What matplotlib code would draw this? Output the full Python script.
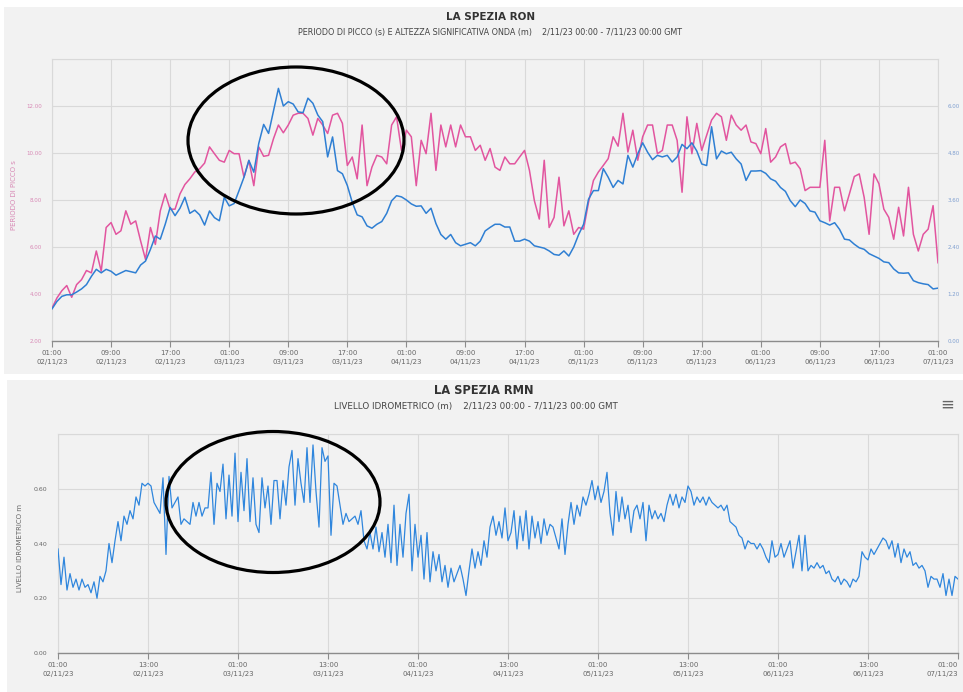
import numpy as np
import pandas as pd
import matplotlib
matplotlib.use('Agg')
import matplotlib.pyplot as plt
import matplotlib.dates as mdates
from matplotlib.ticker import FuncFormatter, FixedLocator
from matplotlib.patches import Rectangle, Ellipse

# ---------------- DATA ----------------
# Top chart: 40-minute samples, 01:00 02/11/23 -> 01:00 07/11/23 (local time)
top_start = "2023-11-02 01:00"
top_end = "2023-11-07 01:00"

peak_period_s = [
    3.40, 3.83, 4.14, 4.36, 3.86, 4.40, 4.61, 5.00, 4.90, 5.83, 4.97, 6.83,
    7.04, 6.54, 6.69, 7.54, 6.97, 7.11, 6.26, 5.47, 6.83, 6.11, 7.54, 8.26,
    7.61, 7.61, 8.26, 8.66, 8.90, 9.19, 9.33, 9.57, 10.26, 9.97, 9.69, 9.61,
    10.11, 9.97, 9.97, 8.97, 9.69, 8.61, 10.26, 9.86, 9.90, 10.61, 11.19, 10.86,
    11.19, 11.61, 11.69, 11.69, 11.47, 10.76, 11.47, 11.19, 10.83, 11.61, 11.69, 11.26,
    9.47, 9.83, 8.90, 11.19, 8.61, 9.40, 9.90, 9.83, 9.54, 11.19, 11.54, 10.11,
    10.97, 10.69, 8.61, 10.54, 9.97, 11.69, 9.26, 11.19, 10.26, 11.19, 10.26, 11.19,
    10.69, 10.69, 10.11, 10.33, 9.69, 10.19, 9.40, 9.26, 9.83, 9.54, 9.54, 9.83,
    10.11, 9.26, 7.97, 7.19, 9.69, 6.83, 7.26, 8.97, 6.90, 7.54, 6.54, 6.83,
    6.76, 7.90, 8.83, 9.19, 9.47, 9.76, 10.69, 10.29, 11.69, 10.04, 10.97, 9.69,
    10.69, 11.19, 11.19, 9.97, 10.11, 11.19, 11.19, 10.54, 8.33, 11.54, 9.97, 11.26,
    10.11, 10.76, 11.40, 11.69, 11.54, 10.54, 11.61, 11.19, 10.97, 11.19, 10.47, 10.40,
    9.97, 11.04, 9.61, 9.83, 10.26, 10.40, 9.54, 9.61, 9.33, 8.40, 8.54, 8.54,
    8.54, 10.54, 7.11, 8.54, 8.54, 7.54, 8.26, 9.00, 9.11, 8.11, 6.54, 9.11,
    8.69, 7.61, 7.26, 6.33, 7.69, 6.47, 8.54, 6.54, 5.83, 6.54, 6.76, 7.76, 5.33,
]

wave_height_m = [
    0.82, 1.01, 1.14, 1.18, 1.18, 1.25, 1.33, 1.44, 1.65, 1.83, 1.74, 1.83,
    1.78, 1.68, 1.74, 1.80, 1.77, 1.74, 1.94, 2.04, 2.34, 2.68, 2.60, 2.98,
    3.41, 3.20, 3.39, 3.67, 3.26, 3.34, 3.22, 2.96, 3.32, 3.15, 3.07, 3.67,
    3.45, 3.51, 3.84, 4.18, 4.61, 4.31, 5.04, 5.53, 5.30, 5.88, 6.45, 6.00,
    6.11, 6.05, 5.85, 5.83, 6.20, 6.07, 5.77, 5.60, 4.70, 5.21, 4.35, 4.27,
    3.97, 3.54, 3.22, 3.17, 2.94, 2.88, 2.98, 3.05, 3.26, 3.58, 3.71, 3.68,
    3.60, 3.50, 3.44, 3.45, 3.26, 3.39, 3.00, 2.72, 2.60, 2.72, 2.51, 2.43,
    2.47, 2.51, 2.43, 2.55, 2.81, 2.90, 2.98, 2.98, 2.91, 2.91, 2.55, 2.55,
    2.60, 2.55, 2.43, 2.40, 2.37, 2.30, 2.21, 2.19, 2.30, 2.17, 2.40, 2.72,
    2.98, 3.62, 3.84, 3.84, 4.40, 4.18, 3.92, 4.10, 4.01, 4.74, 4.44, 4.78,
    5.06, 4.82, 4.63, 4.74, 4.70, 4.74, 4.57, 4.70, 5.02, 4.91, 5.06, 4.85,
    4.52, 4.48, 5.47, 4.65, 4.85, 4.78, 4.82, 4.65, 4.52, 4.10, 4.34, 4.34,
    4.35, 4.28, 4.14, 4.08, 3.92, 3.82, 3.58, 3.43, 3.60, 3.51, 3.32, 3.29,
    3.07, 3.02, 2.96, 3.02, 2.85, 2.60, 2.58, 2.47, 2.38, 2.34, 2.23, 2.17,
    2.11, 2.02, 2.00, 1.84, 1.74, 1.73, 1.74, 1.54, 1.49, 1.46, 1.44, 1.33, 1.35,
]

# Bottom chart: water level, 01:00 02/11/23 -> 01:00 07/11/23
bottom_start = "2023-11-02 01:00"
bottom_end = "2023-11-07 01:00"
water_level_m = [
    0.38, 0.25, 0.35, 0.23, 0.29, 0.24, 0.27, 0.23, 0.27, 0.24, 0.25, 0.22, 0.26, 0.20, 0.28,
    0.26, 0.30, 0.40, 0.33, 0.41, 0.48, 0.41, 0.50, 0.47, 0.52, 0.49, 0.57, 0.54, 0.62, 0.61,
    0.62, 0.61, 0.55, 0.53, 0.51, 0.64, 0.36, 0.645, 0.53, 0.55, 0.57, 0.47, 0.49, 0.48, 0.47,
    0.55, 0.50, 0.55, 0.50, 0.53, 0.53, 0.66, 0.47, 0.62, 0.59, 0.69, 0.49, 0.65, 0.50, 0.73,
    0.48, 0.66, 0.52, 0.71, 0.48, 0.64, 0.47, 0.44, 0.64, 0.53, 0.61, 0.47, 0.63, 0.63, 0.49,
    0.63, 0.54, 0.68, 0.74, 0.54, 0.71, 0.62, 0.55, 0.75, 0.55, 0.76, 0.59, 0.46, 0.75, 0.70,
    0.72, 0.43, 0.62, 0.61, 0.54, 0.47, 0.51, 0.48, 0.49, 0.50, 0.47, 0.52, 0.41, 0.38, 0.44,
    0.38, 0.46, 0.37, 0.44, 0.35, 0.47, 0.33, 0.54, 0.32, 0.47, 0.35, 0.51, 0.58, 0.30, 0.47,
    0.35, 0.43, 0.27, 0.44, 0.26, 0.37, 0.30, 0.36, 0.26, 0.32, 0.24, 0.31, 0.26, 0.29, 0.32,
    0.27, 0.21, 0.30, 0.38, 0.31, 0.37, 0.32, 0.41, 0.35, 0.46, 0.50, 0.43, 0.48, 0.42, 0.53,
    0.41, 0.44, 0.52, 0.38, 0.50, 0.41, 0.52, 0.38, 0.50, 0.42, 0.48, 0.40, 0.49, 0.43, 0.47,
    0.46, 0.42, 0.38, 0.49, 0.36, 0.47, 0.55, 0.47, 0.54, 0.50, 0.57, 0.54, 0.58, 0.63, 0.56,
    0.61, 0.55, 0.59, 0.66, 0.51, 0.43, 0.59, 0.48, 0.57, 0.49, 0.54, 0.44, 0.52, 0.54, 0.49,
    0.55, 0.41, 0.54, 0.49, 0.52, 0.49, 0.51, 0.48, 0.54, 0.58, 0.54, 0.58, 0.53, 0.57, 0.55,
    0.61, 0.59, 0.54, 0.57, 0.55, 0.57, 0.54, 0.57, 0.55, 0.54, 0.53, 0.54, 0.52, 0.54, 0.48,
    0.47, 0.46, 0.43, 0.42, 0.38, 0.41, 0.40, 0.40, 0.38, 0.40, 0.38, 0.35, 0.33, 0.41, 0.35,
    0.36, 0.40, 0.35, 0.38, 0.41, 0.31, 0.37, 0.43, 0.30, 0.43, 0.30, 0.32, 0.31, 0.33, 0.31,
    0.32, 0.29, 0.30, 0.27, 0.26, 0.28, 0.25, 0.27, 0.26, 0.24, 0.27, 0.26, 0.28, 0.37, 0.35,
    0.34, 0.38, 0.36, 0.38, 0.40, 0.42, 0.41, 0.38, 0.41, 0.35, 0.40, 0.33, 0.38, 0.35, 0.37,
    0.32, 0.33, 0.31, 0.32, 0.30, 0.24, 0.28, 0.27, 0.27, 0.24, 0.29, 0.21, 0.27, 0.21, 0.28,
    0.27,
]

period_ticks = [2, 4, 6, 8, 10, 12, 14]
height_ticks = [0.0, 1.2, 2.4, 3.6, 4.8, 6.0, 7.2]
level_ticks = [0.0, 0.2, 0.4, 0.6, 0.8]

title_top = "LA SPEZIA RON"
subtitle_top = "PERIODO DI PICCO (s) E ALTEZZA SIGNIFICATIVA ONDA (m)    2/11/23 00:00 - 7/11/23 00:00 GMT"
ylabel_top = "PERIODO DI PICCO s"
title_bot = "LA SPEZIA RMN"
subtitle_bot = "LIVELLO IDROMETRICO (m)    2/11/23 00:00 - 7/11/23 00:00 GMT"
ylabel_bot = "LIVELLO IDROMETRICO m"

# ---------------- STYLE ----------------
BG = "#f2f2f2"
GRID = "#d9d9d9"
PINK = "#e2559f"
BLUE = "#2f7fd3"
BLUE2 = "#2f86dd"
PINK_TXT = "#d889b5"
BLUE_TXT = "#7f9fd0"
TXT = "#666666"

W, H = 963, 692
fig = plt.figure(figsize=(W / 100, H / 100), dpi=100)
fig.patch.set_facecolor("white")


def fx(px):
    return px / W


def fy(py):
    return 1 - py / H


# panel backgrounds
fig.add_artist(Rectangle((fx(4), fy(374)), (W - 4) / W, (374 - 7) / H,
                         transform=fig.transFigure, facecolor=BG, edgecolor="none", zorder=-5))
fig.add_artist(Rectangle((fx(7), 0), (W - 7) / W, (H - 380) / H,
                         transform=fig.transFigure, facecolor=BG, edgecolor="none", zorder=-5))

date_fmt = mdates.DateFormatter("%H:%M\n%d/%m/%y")


def style_axes(ax):
    ax.set_facecolor(BG)
    ax.grid(True, color=GRID, lw=0.8)
    ax.set_axisbelow(True)
    for s in ["top", "left", "right"]:
        ax.spines[s].set_color(GRID)
        ax.spines[s].set_linewidth(0.8)
    ax.spines["bottom"].set_color("#8c8c8c")
    ax.spines["bottom"].set_linewidth(1.0)
    ax.tick_params(axis="x", direction="out", length=4, width=0.8, color="#8c8c8c",
                   labelsize=5, labelcolor=TXT, pad=2.5)


# ---------------- TOP CHART ----------------
t_top = pd.date_range(top_start, top_end, periods=len(peak_period_s))
ax1 = fig.add_axes([fx(52), fy(341), 886 / W, 282 / H])
style_axes(ax1)
ax1.plot(t_top, peak_period_s, color=PINK, lw=1.1, zorder=3)
ax1.set_xlim(t_top[0], t_top[-1])
ax1.set_ylim(period_ticks[0], period_ticks[-1])
ax1.yaxis.set_major_locator(FixedLocator(period_ticks))
ax1.yaxis.set_major_formatter(FuncFormatter(lambda v, p: f"{v:.2f}" if v < period_ticks[-1] - 0.5 else ""))
ax1.tick_params(axis="y", length=0, labelsize=4, labelcolor=PINK_TXT, pad=7)
ax1.xaxis.set_major_locator(mdates.HourLocator(byhour=[1, 9, 17]))
ax1.xaxis.set_major_formatter(date_fmt)

ax1b = ax1.twinx()
ax1b.plot(t_top, wave_height_m, color=BLUE, lw=1.1, zorder=4)
ax1b.set_ylim(height_ticks[0], height_ticks[-1])
ax1b.yaxis.set_major_locator(FixedLocator(height_ticks))
ax1b.yaxis.set_major_formatter(FuncFormatter(lambda v, p: f"{v:.2f}" if v < height_ticks[-1] - 0.5 else ""))
ax1b.tick_params(axis="y", length=0, labelsize=4, labelcolor=BLUE_TXT, pad=7)
for s in ax1b.spines.values():
    s.set_visible(False)

fig.text(fx(491), fy(17), title_top, ha="center", va="center", fontsize=7.5,
         fontweight="bold", color="#333333")
fig.text(fx(490), fy(33), subtitle_top, ha="center", va="center", fontsize=5.8, color="#444444")
fig.text(fx(14), fy(195), ylabel_top, ha="center", va="center", rotation=90,
         fontsize=5, color=PINK_TXT)

# ---------------- BOTTOM CHART ----------------
t_bot = pd.date_range(bottom_start, bottom_end, periods=len(water_level_m))
ax2 = fig.add_axes([fx(58), fy(653), 900 / W, 219 / H])
style_axes(ax2)
ax2.plot(t_bot, water_level_m, color=BLUE2, lw=0.9, zorder=3)
ax2.set_xlim(t_bot[0], t_bot[-1])
ax2.set_ylim(level_ticks[0], level_ticks[-1])
ax2.yaxis.set_major_locator(FixedLocator(level_ticks))
ax2.yaxis.set_major_formatter(FuncFormatter(lambda v, p: f"{v:.2f}" if v < level_ticks[-1] - 0.05 else ""))
ax2.tick_params(axis="y", length=0, labelsize=4.5, labelcolor=TXT, pad=7.5)
ax2.xaxis.set_major_locator(mdates.HourLocator(byhour=[1, 13]))
ax2.xaxis.set_major_formatter(date_fmt)

fig.text(fx(484), fy(391), title_bot, ha="center", va="center", fontsize=8.3,
         fontweight="bold", color="#333333")
fig.text(fx(476), fy(407), subtitle_bot, ha="center", va="center", fontsize=6.3, color="#444444")
fig.text(fx(20), fy(548), ylabel_bot, ha="center", va="center", rotation=90,
         fontsize=5, color=TXT)
fig.text(fx(947), fy(405), "\u2261", ha="center", va="center", fontsize=12, color="#666666")

# hand-drawn annotation ellipses
fig.add_artist(Ellipse((fx(296), fy(140.5)), 216 / W, 147 / H, transform=fig.transFigure,
                       fill=False, edgecolor="black", lw=2.3, zorder=10))
fig.add_artist(Ellipse((fx(273), fy(502)), 214 / W, 141 / H, transform=fig.transFigure,
                       fill=False, edgecolor="black", lw=2.3, zorder=10))

fig.canvas.draw()
for ax in (ax1, ax2):
    for lbl in ax.get_xticklabels():
        lbl.set_linespacing(1.5)
last = ax2.xaxis.get_major_ticks()[-1]
last.label1.set_horizontalalignment("right")

fig.savefig("out.png", dpi=100, facecolor=fig.get_facecolor())
